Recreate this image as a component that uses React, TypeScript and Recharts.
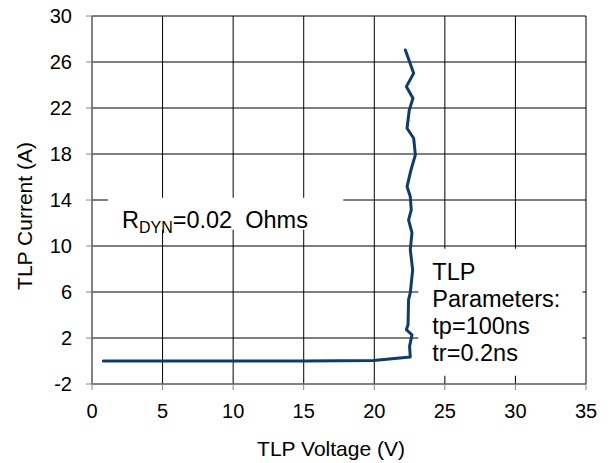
import React from 'react';
import { LineChart, Line, XAxis, YAxis, CartesianGrid, ReferenceArea } from 'recharts';

const voltage = [0.8, 5, 10, 15, 19.95, 22.55, 22.5, 22.67, 22.27, 22.39, 22.43, 22.55, 22.72, 22.55, 22.67, 22.43, 22.62, 22.55, 22.32, 22.6, 22.91, 22.79, 22.32, 22.48, 22.74, 22.27, 22.79, 22.2];
const current = [0, 0, 0, 0, 0.05, 0.35, 1.27, 2.28, 2.72, 3.15, 5.33, 5.93, 7.93, 9.67, 11.15, 12.28, 13.14, 14.3, 15.17, 16.62, 17.92, 19.37, 20.24, 21.83, 22.85, 23.86, 25.02, 27.05];
const xTicks = [0, 5, 10, 15, 20, 25, 30, 35];
const yTicks = [-2, 2, 6, 10, 14, 18, 22, 26, 30];
const xTitle = 'TLP Voltage (V)';
const yTitle = 'TLP Current (A)';
const rdynMain = 'R';
const rdynSub = 'DYN';
const rdynRest = '=0.02  Ohms';
const paramLines = ['TLP', 'Parameters:', 'tp=100ns', 'tr=0.2ns'];

const data = voltage.map((v, k) => ({ v, i: current[k] }));

const FONT = '"Liberation Sans", Arial, sans-serif';
const LINE_COLOR = '#0f3b6f';

const RdynLabel = (props: any) => {
  const vb = props.viewBox;
  if (!vb) return null;
  return (
    <text x={vb.x + 14} y={vb.y + 30} fontFamily={FONT} fontSize={23.5} fill="#000" style={{ whiteSpace: 'pre' }}>
      <tspan>{rdynMain}</tspan>
      <tspan fontSize={16} dy={5}>{rdynSub}</tspan>
      <tspan dy={-5}>{rdynRest}</tspan>
    </text>
  );
};

const ParamLabel = (props: any) => {
  const vb = props.viewBox;
  if (!vb) return null;
  return (
    <text fontFamily={FONT} fontSize={23.5} fill="#000">
      {paramLines.map((t, k) => (
        <tspan key={k} x={vb.x + 14} y={vb.y + 31 + k * 27}>{t}</tspan>
      ))}
    </text>
  );
};

const YTitle = () => (
  <text x={0} y={0} transform="translate(32, 216) rotate(-90)" textAnchor="middle" fontFamily={FONT} fontSize={21} fill="#000">
    {yTitle}
  </text>
);

const XTitle = () => (
  <text x={331} y={456} textAnchor="middle" fontFamily={FONT} fontSize={21} fill="#000">
    {xTitle}
  </text>
);

export default function App() {
  return (
    <div style={{ position: 'absolute', left: 0, top: 0, width: 612, height: 463, background: '#fff' }}>
      <LineChart
        width={612}
        height={463}
        data={data}
        margin={{ top: 16, right: 26, left: 32, bottom: 29 }}
      >
        <CartesianGrid stroke="#000" strokeWidth={1} />
        <XAxis
          dataKey="v"
          type="number"
          domain={[0, 35]}
          ticks={xTicks}
          interval={0}
          height={50}
          stroke="#868686"
          tickSize={6}
          tickMargin={14}
          tick={{ fill: '#000', fontSize: 20, fontFamily: FONT }}
          label={{ content: () => <XTitle /> }}
        />
        <YAxis
          type="number"
          domain={[-2, 30]}
          ticks={yTicks}
          interval={0}
          width={60}
          stroke="#868686"
          tickSize={6}
          tickMargin={14}
          tick={{ fill: '#000', fontSize: 20, fontFamily: FONT }}
          label={{ content: () => <YTitle /> }}
        />
        <ReferenceArea x1={1.13} x2={17.8} y1={11.41} y2={14.19} fill="#fff" fillOpacity={1} stroke="none" label={<RdynLabel />} />
        <ReferenceArea x1={23.12} x2={34.75} y1={-1.28} y2={9.76} fill="#fff" fillOpacity={1} stroke="none" label={<ParamLabel />} />
        <Line
          dataKey="i"
          type="linear"
          stroke={LINE_COLOR}
          strokeWidth={3}
          dot={false}
          isAnimationActive={false}
          strokeLinejoin="round"
          strokeLinecap="round"
        />
      </LineChart>
    </div>
  );
}
